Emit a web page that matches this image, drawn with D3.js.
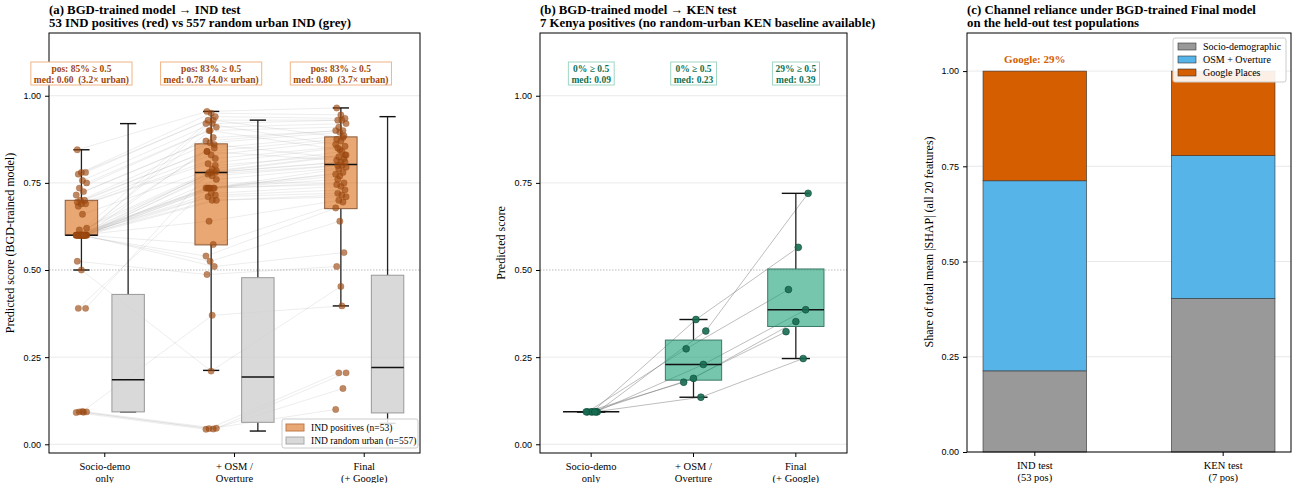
<!DOCTYPE html>
<html>
<head>
<meta charset="utf-8">
<script src="https://cdn.jsdelivr.net/npm/d3@7"></script>
<style>
  body { margin: 0; background: #fff; }
  svg { font-family: "Liberation Serif", "Times New Roman", serif; }
</style>
</head>
<body>
<svg id="chart" width="1298" height="483"></svg>
<script>
// ---- data ----
var stages = ["Socio-demo|only", "+ OSM /|Overture", "Final|(+ Google)"];
var yTicks = [0, 0.25, 0.5, 0.75, 1.0];

// 53 IND positives, same order in each stage (lines join them)
var indPosSocio = [0.091, 0.092, 0.093, 0.093, 0.094, 0.39, 0.39, 0.50, 0.525,
  0.60, 0.60, 0.60, 0.60, 0.60, 0.60, 0.60, 0.60, 0.60, 0.60, 0.60, 0.60, 0.60,
  0.60, 0.60, 0.60, 0.60, 0.60, 0.60, 0.60, 0.60, 0.60, 0.60, 0.60, 0.60, 0.60,
  0.615, 0.62, 0.66, 0.683, 0.69, 0.69, 0.695, 0.70, 0.70, 0.715, 0.725, 0.735,
  0.75, 0.757, 0.775, 0.78, 0.78, 0.845];
var indPosOsm = [0.043, 0.044, 0.045, 0.046, 0.37, 0.735, 0.80, 0.21, 0.487,
  0.51, 0.525, 0.54, 0.573, 0.64, 0.70, 0.70, 0.71, 0.715, 0.72, 0.735, 0.735,
  0.735, 0.735, 0.735, 0.735, 0.76, 0.77, 0.775, 0.78, 0.78, 0.84, 0.86, 0.90,
  0.92, 0.93, 0.78, 0.785, 0.79, 0.805, 0.82, 0.83, 0.84, 0.85, 0.865, 0.87,
  0.88, 0.90, 0.91, 0.92, 0.93, 0.94, 0.95, 0.955];
var indPosFinal = [0.10, 0.16, 0.205, 0.205, 0.397, 0.76, 0.83, 0.453, 0.51,
  0.55, 0.64, 0.678, 0.695, 0.70, 0.71, 0.715, 0.72, 0.73, 0.74, 0.745, 0.75,
  0.77, 0.775, 0.78, 0.79, 0.795, 0.80, 0.80, 0.81, 0.81, 0.815, 0.82, 0.845,
  0.86, 0.88, 0.825, 0.83, 0.84, 0.85, 0.855, 0.87, 0.875, 0.885, 0.895, 0.90,
  0.90, 0.91, 0.92, 0.93, 0.93, 0.935, 0.945, 0.965];

// box stats: [low whisker, q1, median, q3, high whisker]
var indPosBox = [[0.50, 0.60, 0.60, 0.70, 0.845],
                 [0.212, 0.572, 0.78, 0.862, 0.955],
                 [0.397, 0.676, 0.803, 0.882, 0.965]];
var indUrbanBox = [[0.093, 0.093, 0.185, 0.43, 0.92],
                   [0.038, 0.063, 0.193, 0.478, 0.93],
                   [0.06, 0.09, 0.22, 0.485, 0.94]];
var indPctAbove = [85, 83, 83];
var indMedian = [0.60, 0.78, 0.80];
var indRatio = [3.2, 4.0, 3.7];

// 7 Kenya positives
var kenSocio = [0.093, 0.093, 0.093, 0.093, 0.093, 0.093, 0.093];
var kenOsm = [0.325, 0.358, 0.274, 0.229, 0.189, 0.178, 0.135];
var kenFinal = [0.72, 0.565, 0.444, 0.386, 0.352, 0.323, 0.246];
var kenBox = [[0.093, 0.093, 0.093, 0.093, 0.093],
              [0.135, 0.184, 0.229, 0.299, 0.358],
              [0.246, 0.338, 0.386, 0.503, 0.72]];
var kenPctAbove = [0, 0, 29];
var kenMedian = [0.09, 0.23, 0.39];

// SHAP channel shares
var shapGroups = ["IND test|(53 pos)", "KEN test|(7 pos)"];
var channels = ["Socio-demographic", "OSM + Overture", "Google Places"];
var shapSocio = [0.213, 0.403];
var shapOsm = [0.499, 0.375];
var shapGoogle = [0.288, 0.222];

var svg = d3.select("#chart");
svg.append("rect").attr("width", 1298).attr("height", 483).attr("fill", "#fff");

var ORANGE = "#D55E00", TEAL = "#1B9E77";

// small deterministic spread so points don't sit on one line
function jit(i) { return ((i * 7) % 11) / 10 - 0.5; }

function frame(x0, x1, y) {
  var g = svg.append("g");
  g.selectAll("line.grid").data(yTicks).enter().append("line")
    .attr("x1", x0).attr("x2", x1)
    .attr("y1", function(d){ return y(d); }).attr("y2", function(d){ return y(d); })
    .style("stroke", function(d){ return d === 0.5 ? "#aaa" : "#e3e3e3"; })
    .style("stroke-width", 0.8)
    .style("stroke-dasharray", function(d){ return d === 0.5 ? "1.5,1.5" : null; });
  return g;
}

function axes(x0, x1, y, labels, xPos, ylabel, ylabelX) {
  var g = svg.append("g");
  var yAx = g.append("g").attr("transform", "translate(" + x0 + ",0)")
    .call(d3.axisLeft(y).tickValues(yTicks).tickFormat(d3.format(".2f")).tickSize(4).tickPadding(4));
  yAx.select(".domain").remove();
  yAx.selectAll("text").style("font-size", "9px").style("font-family", "inherit");
  var yr = y.range();
  g.append("rect").attr("x", x0).attr("y", yr[1]).attr("width", x1 - x0).attr("height", yr[0] - yr[1])
    .style("fill", "none").style("stroke", "#000").style("stroke-width", 1);
  labels.forEach(function(l, i){
    var px = xPos(i);
    g.append("line").attr("x1", px).attr("x2", px).attr("y1", yr[0]).attr("y2", yr[0] + 4)
      .style("stroke", "#000");
    var t = g.append("text").attr("x", px).attr("y", yr[0] + 17)
      .attr("text-anchor", "middle").style("font-size", "10.5px");
    l.split("|").forEach(function(s, k){
      t.append("tspan").attr("x", px).attr("dy", k === 0 ? 0 : 12).text(s);
    });
  });
  var cy = (yr[0] + yr[1]) / 2;
  g.append("text").attr("transform", "translate(" + ylabelX + "," + cy + ") rotate(-90)")
    .attr("text-anchor", "middle").style("font-size", "12px").text(ylabel);
}

function title(x, l1, l2) {
  var t = svg.append("text").attr("x", x).attr("y", 14)
    .style("font-size", "12.8px").style("font-weight", "bold");
  t.append("tspan").attr("x", x).text(l1);
  t.append("tspan").attr("x", x).attr("dy", 13).text(l2);
}

function box(g, x, y, c, w, s, fill, fillOp, stroke) {
  var cap = w / 2;
  g.append("line").attr("x1", x(c)).attr("x2", x(c)).attr("y1", y(s[0])).attr("y2", y(s[1]))
    .style("stroke", "#222").style("stroke-width", 1.3);
  g.append("line").attr("x1", x(c)).attr("x2", x(c)).attr("y1", y(s[3])).attr("y2", y(s[4]))
    .style("stroke", "#222").style("stroke-width", 1.3);
  [s[0], s[4]].forEach(function(v){
    g.append("line").attr("x1", x(c - cap / 2)).attr("x2", x(c + cap / 2))
      .attr("y1", y(v)).attr("y2", y(v)).style("stroke", "#111").style("stroke-width", 1.4);
  });
  g.append("rect").attr("x", x(c - w / 2)).attr("y", y(s[3]))
    .attr("width", x(c + w / 2) - x(c - w / 2)).attr("height", Math.max(0, y(s[1]) - y(s[3])))
    .style("fill", fill).style("fill-opacity", fillOp).style("stroke", stroke).style("stroke-width", 1);
  g.append("line").attr("x1", x(c - w / 2)).attr("x2", x(c + w / 2))
    .attr("y1", y(s[2])).attr("y2", y(s[2])).style("stroke", "#111").style("stroke-width", 1.5);
}

function note(cx, lines, color, border) {
  var g = svg.append("g");
  var t = g.append("text").attr("text-anchor", "middle")
    .style("font-size", "9.5px").style("font-weight", "bold").style("fill", color);
  lines.forEach(function(s, k){
    t.append("tspan").attr("x", cx).attr("y", 72 + k * 11).text(s);
  });
  var bb = t.node().getBBox();
  g.insert("rect", "text").attr("x", bb.x - 3).attr("y", 62).attr("width", bb.width + 6).attr("height", 23)
    .style("fill", "#fff").style("stroke", border).style("stroke-width", 1);
}

// ================= panel (a) =================
var xA = d3.scaleLinear().domain([-0.43, 2.43]).range([49, 420]);
var yA = d3.scaleLinear().domain([-0.025, 1.18]).range([453, 33]);
var posOff = -0.18, urbOff = 0.18, bw = 0.25;
var gA = frame(49, 420, yA);

var indSeries = [indPosSocio, indPosOsm, indPosFinal];
var pxA = function(stage, i){ return stage + posOff + jit(i) * 0.08; };

// paired lines
var lineGen = d3.line().x(function(d){ return xA(d[0]); }).y(function(d){ return yA(d[1]); });
gA.selectAll("path.pair").data(indPosSocio).enter().append("path")
  .attr("d", function(d, i){
    return lineGen(indSeries.map(function(s, k){ return [pxA(k, i), s[i]]; }));
  })
  .style("fill", "none").style("stroke", "#999").style("stroke-opacity", 0.3).style("stroke-width", 0.6);

indPosBox.forEach(function(s, k){ box(gA, xA, yA, k + posOff, bw, s, ORANGE, 0.55, "#8a5a3a"); });
indUrbanBox.forEach(function(s, k){ box(gA, xA, yA, k + urbOff, bw, s, "#d0d0d0", 0.8, "#999"); });

indSeries.forEach(function(s, k){
  gA.selectAll("circle.s" + k).data(s).enter().append("circle")
    .attr("cx", function(d, i){ return xA(pxA(k, i)); })
    .attr("cy", function(d){ return yA(d); })
    .attr("r", 3.2)
    .style("fill", "#9c4a12").style("fill-opacity", 0.65)
    .style("stroke", "#8b3a00").style("stroke-opacity", 0.4).style("stroke-width", 0.5);
});

axes(49, 420, yA, stages, function(i){ return xA(i); }, "Predicted score (BGD-trained model)", 14);
title(49, "(a) BGD-trained model \u2192 IND test", "53 IND positives (red) vs 557 random urban IND (grey)");
indPctAbove.forEach(function(p, k){
  note(xA(k + posOff), ["pos: " + p + "% \u2265 0.5",
    "med: " + indMedian[k].toFixed(2) + "\u00a0\u00a0(" + indRatio[k].toFixed(1) + "\u00d7 urban)"],
    "#a0470c", "#f0b486");
});

// legend (a)
var lgA = svg.append("g").attr("transform", "translate(282,419)");
lgA.append("rect").attr("width", 136).attr("height", 29).attr("rx", 2)
  .style("fill", "#fff").style("fill-opacity", 0.85).style("stroke", "#ccc");
[["IND positives (n=53)", ORANGE, 0.55, "#c07a4a"], ["IND random urban (n=557)", "#d0d0d0", 0.8, "#aaa"]]
  .forEach(function(e, k){
    lgA.append("rect").attr("x", 4).attr("y", 5 + k * 13).attr("width", 18).attr("height", 7)
      .style("fill", e[1]).style("fill-opacity", e[2]).style("stroke", e[3]);
    lgA.append("text").attr("x", 29).attr("y", 12 + k * 13).style("font-size", "9.5px").text(e[0]);
  });

// ================= panel (b) =================
var xB = d3.scaleLinear().domain([-0.5, 2.5]).range([540, 847]);
var yB = yA.copy();
var gB = frame(540, 847, yB);
var kenSeries = [kenSocio, kenOsm, kenFinal];
var pxB = function(stage, i){ return stage === 0 ? jit(i + 3) * 0.12 : stage + jit(i + 3) * 0.24; };
var lineB = d3.line().x(function(d){ return xB(d[0]); }).y(function(d){ return yB(d[1]); });
gB.selectAll("path.pair").data(kenSocio).enter().append("path")
  .attr("d", function(d, i){
    return lineB(kenSeries.map(function(s, k){ return [pxB(k, i), s[i]]; }));
  })
  .style("fill", "none").style("stroke", "#777").style("stroke-opacity", 0.6).style("stroke-width", 0.8);
kenBox.forEach(function(s, k){ box(gB, xB, yB, k, 0.55, s, TEAL, 0.6, "#3a7a66"); });
kenSeries.forEach(function(s, k){
  gB.selectAll("circle.s" + k).data(s).enter().append("circle")
    .attr("cx", function(d, i){ return xB(pxB(k, i)); })
    .attr("cy", function(d){ return yB(d); })
    .attr("r", 3.4)
    .style("fill", "#176b52").style("fill-opacity", 0.9)
    .style("stroke", "#0b4a38").style("stroke-width", 0.6);
});
axes(540, 847, yB, stages, function(i){ return xB(i); }, "Predicted score", 505);
title(540, "(b) BGD-trained model \u2192 KEN test", "7 Kenya positives (no random-urban KEN baseline available)");
kenPctAbove.forEach(function(p, k){
  note(xB(k), [p + "% \u2265 0.5", "med: " + kenMedian[k].toFixed(2)], "#0f7355", "#9fd6c4");
});

// ================= panel (c) =================
var xC = d3.scaleLinear().domain([-0.36, 1.36]).range([967, 1291]);
var yC = d3.scaleLinear().domain([0, 1.1]).range([452, 33]);
var gC = svg.append("g");
gC.selectAll("line.grid").data(yTicks).enter().append("line")
  .attr("x1", 967).attr("x2", 1291)
  .attr("y1", function(d){ return yC(d); }).attr("y2", function(d){ return yC(d); })
  .style("stroke", "#e3e3e3").style("stroke-width", 0.8);

var stackRows = shapGroups.map(function(g, i){
  return { group: i, "Socio-demographic": shapSocio[i], "OSM + Overture": shapOsm[i], "Google Places": shapGoogle[i] };
});
var stacked = d3.stack().keys(channels)(stackRows);
var colC = d3.scaleOrdinal().domain(channels).range(["#999999", "#56B4E9", "#D55E00"]);
var barW = 0.55;
stacked.forEach(function(layer){
  gC.selectAll("rect.l" + layer.index).data(layer).enter().append("rect")
    .attr("x", function(d){ return xC(d.data.group - barW / 2); })
    .attr("width", xC(barW) - xC(0))
    .attr("y", function(d){ return yC(d[1]); })
    .attr("height", function(d){ return yC(d[0]) - yC(d[1]); })
    .style("fill", colC(layer.key)).style("stroke", "#333").style("stroke-width", 0.6);
});
shapGoogle.forEach(function(v, i){
  gC.append("text").attr("x", xC(i)).attr("y", yC(1) - 8).attr("text-anchor", "middle")
    .style("font-size", "11px").style("font-weight", "bold").style("fill", "#D55E00")
    .text("Google: " + Math.round(v * 100) + "%");
});
(function(){
  var g = svg.append("g");
  var yAx = g.append("g").attr("transform", "translate(967,0)")
    .call(d3.axisLeft(yC).tickValues(yTicks).tickFormat(d3.format(".2f")).tickSize(4).tickPadding(4));
  yAx.select(".domain").remove();
  yAx.selectAll("text").style("font-size", "9px").style("font-family", "inherit");
  g.append("rect").attr("x", 967).attr("y", 33).attr("width", 1291 - 967).attr("height", 452 - 33)
    .style("fill", "none").style("stroke", "#000");
  shapGroups.forEach(function(l, i){
    var px = xC(i);
    g.append("line").attr("x1", px).attr("x2", px).attr("y1", 452).attr("y2", 456).style("stroke", "#000");
    var t = g.append("text").attr("x", px).attr("y", 469).attr("text-anchor", "middle").style("font-size", "10.5px");
    l.split("|").forEach(function(s, k){ t.append("tspan").attr("x", px).attr("dy", k === 0 ? 0 : 12).text(s); });
  });
  g.append("text").attr("transform", "translate(933,242) rotate(-90)").attr("text-anchor", "middle")
    .style("font-size", "12px").text("Share of total mean |SHAP| (all 20 features)");
})();
title(967, "(c) Channel reliance under BGD-trained Final model", "on the held-out test populations");

// legend (c) sits over the KEN label, as in the original
var lgC = svg.append("g").attr("transform", "translate(1173,38)");
lgC.append("rect").attr("width", 113).attr("height", 44).attr("rx", 2)
  .style("fill", "#fff").style("fill-opacity", 0.9).style("stroke", "#ccc");
channels.forEach(function(c, k){
  lgC.append("rect").attr("x", 5).attr("y", 5 + k * 13).attr("width", 18).attr("height", 7)
    .style("fill", colC(c)).style("stroke", "#333").style("stroke-width", 0.6);
  lgC.append("text").attr("x", 30).attr("y", 12 + k * 13).style("font-size", "10px").text(c);
});
</script>
</body>
</html>
